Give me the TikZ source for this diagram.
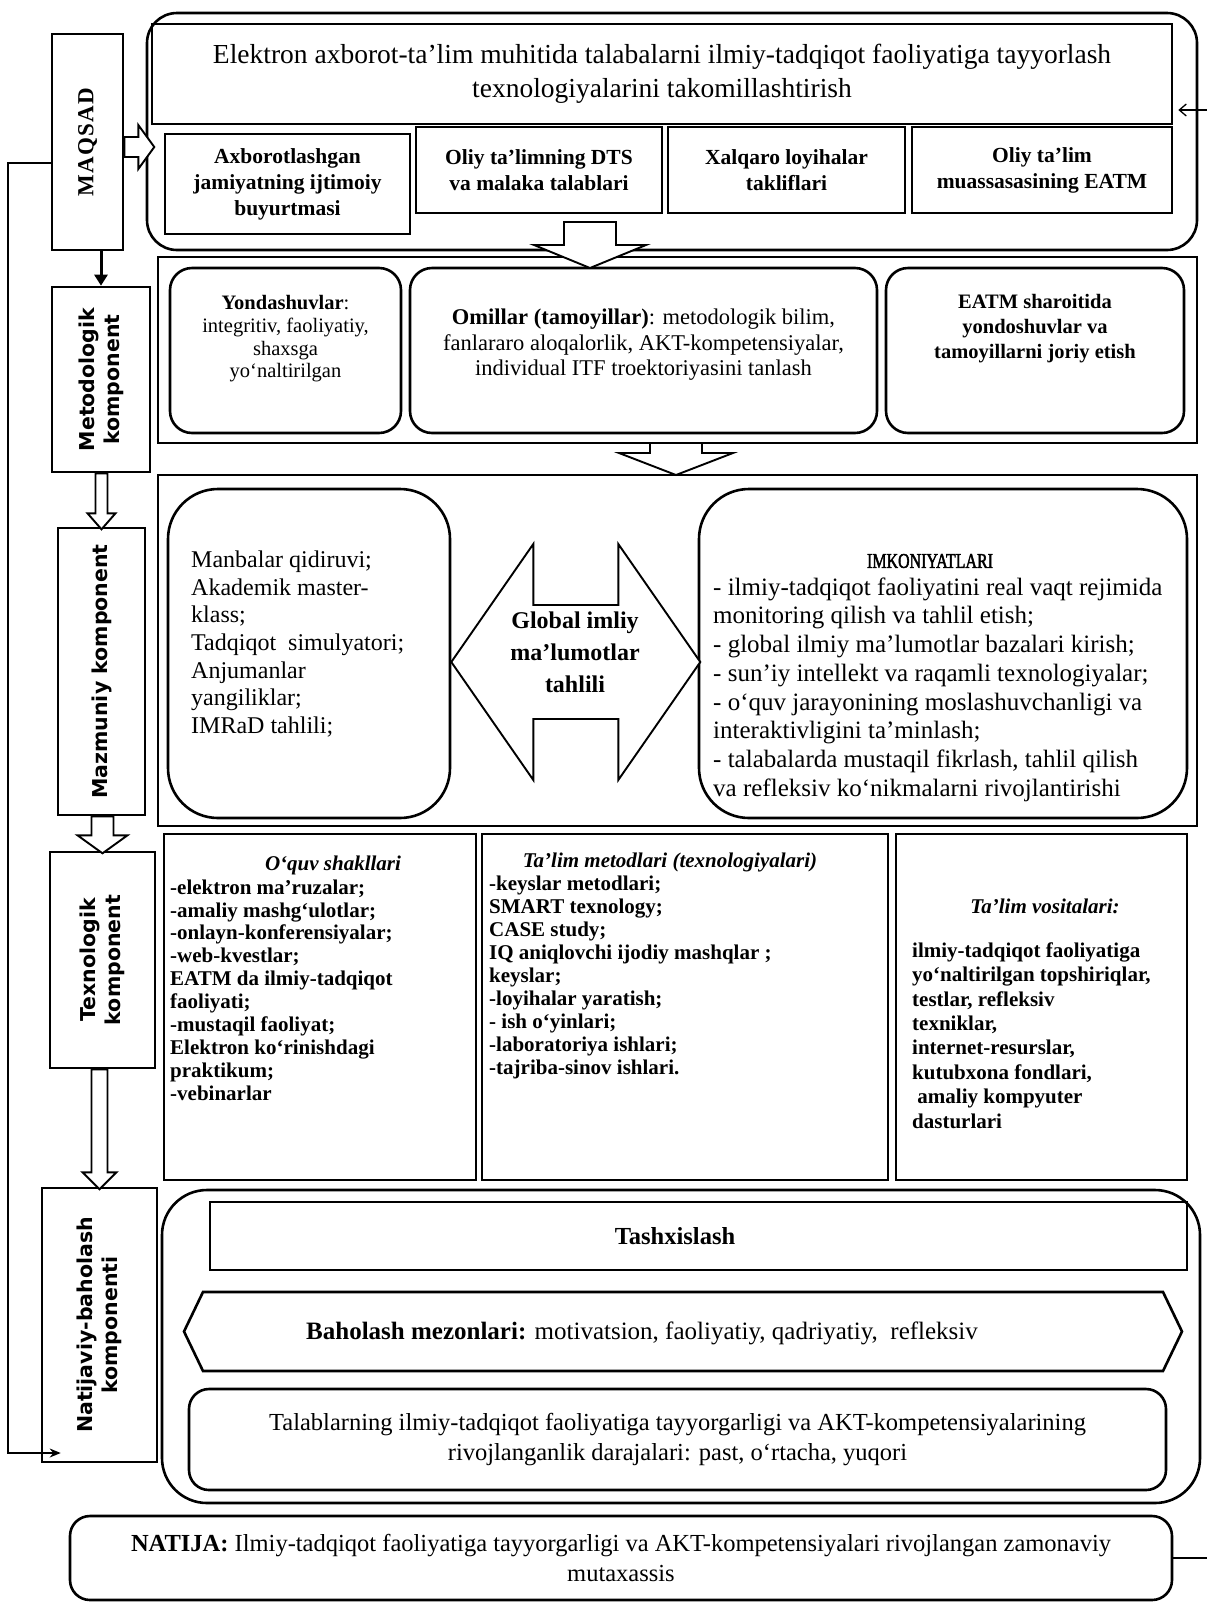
\documentclass[tikz,border=0pt]{standalone}
\usepackage{fontspec}
\setmainfont{Liberation Serif}
\newfontfamily\dvsans{DejaVu Sans}
\newfontfamily\narrowserif{Liberation Serif}[FakeStretch=0.76, FakeBold=2]
\usetikzlibrary{calc,arrows.meta}
\newcommand\zzTitle{\fontsize{27.5}{34}\selectfont}
\newcommand\zzSub{\fontsize{21.5}{26}\selectfont\bfseries}
\newcommand\zzRa{\fontsize{20.5}{22.7}\selectfont}
\newcommand\zzRb{\fontsize{22.5}{25.5}\selectfont}
\newcommand\zzRc{\fontsize{20.5}{25}\selectfont\bfseries}
\newcommand\zzMazL{\fontsize{24}{27.7}\selectfont}
\newcommand\zzMazR{\fontsize{25}{28.7}\selectfont}
\newcommand\zzGlob{\fontsize{24}{32}\selectfont\bfseries}
\newcommand\zzTech{\fontsize{21}{22.9}\selectfont\bfseries}
\newcommand\zzTechT{\fontsize{21}{24.4}\selectfont\bfseries}
\newcommand\zzNat{\fontsize{24.5}{29.5}\selectfont}
\newcommand\zzMaq{\fontsize{23}{26}\selectfont\bfseries\addfontfeatures{LetterSpace=6}}
\newcommand\zzLab{\dvsans\fontsize{20.5}{25}\selectfont\bfseries}
\newcommand\zzDown[5]{\draw[hol] (#1) ++({-(#2)},0) -- ++(0,#4) -- ++({(#2)-(#3)},0) -- ++(#3,#5) -- ++(#3,{-(#5)}) -- ++({(#2)-(#3)},0) -- ++(0,{-(#4)}) -- cycle;}
\newcommand\zzRight[5]{\draw[hol] (#1) ++(0,{-(#2)}) -- ++(#4,0) -- ++(0,{(#2)-(#3)}) -- ++(#5,#3) -- ++({-(#5)},#3) -- ++(0,{(#2)-(#3)}) -- ++({-(#4)},0) -- cycle;}
\tikzset{
  bx/.style={draw, line width=2.6pt, inner sep=0pt, align=center},
  tx/.style={inner sep=0pt, align=center},
  txl/.style={inner sep=0pt, align=left, anchor=west},
  hol/.style={draw, line width=1.9pt, fill=white, line join=miter},
  thinln/.style={line width=1.3pt},
}
\begin{document}
\begin{tikzpicture}[x=1pt,y=-1pt]
\fill[white] (0,0) rectangle (1207,1604);
\useasboundingbox (0,0) rectangle (1207,1604);

% ---------- top block
\node[bx, rounded corners=30pt, minimum width=1050pt, minimum height=237pt] (top) at (672,131.5) {};
\node[bx, minimum width=1020pt, minimum height=100pt, font=\zzTitle] (title) at (662,74)
  {Elektron axborot-ta’lim muhitida talabalarni ilmiy-tadqiqot faoliyatiga tayyorlash\\texnologiyalarini takomillashtirish};
\node[bx, minimum width=245pt, minimum height=100pt, font=\zzSub] (b1) at (287.5,184) {Axborotlashgan\\jamiyatning ijtimoiy\\buyurtmasi};
\node[bx, minimum width=246pt, minimum height=86pt, font=\zzSub] (b2) at (539,170) {Oliy ta’limning DTS\\va malaka talablari};
\node[bx, minimum width=237pt, minimum height=86pt, font=\zzSub] (b3) at (786.5,170) {Xalqaro loyihalar\\takliflari};
\node[bx, minimum width=260pt, minimum height=86pt, font=\zzSub] (b4) at (1042,170) {Oliy ta’lim\\muassasasining EATM};

% ---------- metodologik block
\node[bx, minimum width=1039pt, minimum height=186pt] (metout) at (677.5,350) {};
\node[bx, rounded corners=22pt, minimum width=231pt, minimum height=165pt] (r1) at (285.5,350.5) {};
\node[tx, font=\zzRa] (r1t) at (285.5,339) {\textbf{Yondashuvlar}:\\integritiv, faoliyatiy,\\shaxsga\\yo‘naltirilgan};
\node[bx, rounded corners=22pt, minimum width=467pt, minimum height=165pt] (r2) at (643.5,350.5) {};
\node[tx, font=\zzRb] (r2t) at (643.5,345) {\textbf{Omillar (tamoyillar)}: metodologik bilim,\\fanlararo aloqalorlik, AKT-kompetensiyalar,\\individual ITF troektoriyasini tanlash};
\node[bx, rounded corners=22pt, minimum width=298pt, minimum height=165pt] (r3) at (1035,350.5) {};
\node[tx, font=\zzRc] (r3t) at (1035,329) {EATM sharoitida\\yondoshuvlar va\\tamoyillarni joriy etish};

% ---------- mazmuniy block
\node[bx, minimum width=1039pt, minimum height=351pt] (mazout) at (677.5,650.5) {};
\node[bx, rounded corners=50pt, minimum width=282pt, minimum height=329pt] (lb) at (309,653.5) {};
\node[txl, font=\zzMazL] (lbt) at (191,644) {Manbalar qidiruvi;\\Akademik master-\\klass;\\Tadqiqot\ \ simulyatori;\\Anjumanlar\\yangiliklar;\\IMRaD tahlili;};
\node[bx, rounded corners=50pt, minimum width=488pt, minimum height=329pt] (rb) at (943,653.5) {};
\node[tx, font=\narrowserif\fontsize{21}{24}\selectfont] (rbh) at (930,561) {IMKONIYATLARI};
\node[txl, font=\zzMazR] (rbt) at (713,689.5) {- ilmiy-tadqiqot faoliyatini real vaqt rejimida\\monitoring qilish va tahlil etish;\\- global ilmiy ma’lumotlar bazalari kirish;\\- sun’iy intellekt va raqamli texnologiyalar;\\- o‘quv jarayonining moslashuvchanligi va\\interaktivligini ta’minlash;\\- talabalarda mustaqil fikrlash, tahlil qilish\\va refleksiv ko‘nikmalarni rivojlantirishi};
\coordinate (dc) at (574.5,662);
\draw[hol] (lb.east |- dc) -- ++(82,-118) -- ++(0,61) -- ++(85,0) -- ++(0,-61) -- ++(82,118)
  -- ++(-82,118) -- ++(0,-61) -- ++(-85,0) -- ++(0,61) -- cycle;
\node[tx, font=\zzGlob] (glob) at (575,652) {Global imliy\\ma’lumotlar\\tahlili};

% ---------- texnologik block
\node[bx, line width=2.8pt, minimum width=312pt, minimum height=346pt] (t1) at (320,1007) {};
\node[tx, font=\zzTech\itshape] (t1h) at (333,865) {O‘quv shakllari};
\node[txl, font=\zzTech] (t1t) at (170,990) {-elektron ma’ruzalar;\\-amaliy mashg‘ulotlar;\\-onlayn-konferensiyalar;\\-web-kvestlar;\\EATM da ilmiy-tadqiqot\\faoliyati;\\-mustaqil faoliyat;\\Elektron ko‘rinishdagi\\praktikum;\\-vebinarlar};
\node[bx, line width=2.8pt, minimum width=406pt, minimum height=346pt] (t2) at (685,1007) {};
\node[tx, font=\zzTech\itshape] (t2h) at (670,862) {Ta’lim metodlari (texnologiyalari)};
\node[txl, font=\zzTech] (t2t) at (489,977.5) {-keyslar metodlari;\\SMART texnology;\\CASE study;\\IQ aniqlovchi ijodiy mashqlar ;\\keyslar;\\-loyihalar yaratish;\\- ish o‘yinlari;\\-laboratoriya ishlari;\\-tajriba-sinov ishlari.};
\node[bx, line width=2.8pt, minimum width=291pt, minimum height=346pt] (t3) at (1041.5,1007) {};
\node[tx, font=\zzTech\itshape] (t3h) at (1045,906) {Ta’lim vositalari:};
\node[txl, font=\zzTechT] (t3t) at (912,1035.5) {ilmiy-tadqiqot faoliyatiga\\yo‘naltirilgan topshiriqlar,\\testlar, refleksiv\\texniklar,\\internet-resurslar,\\kutubxona fondlari,\\\ amaliy kompyuter\\dasturlari};

% ---------- natijaviy block
\node[bx, rounded corners=45pt, minimum width=1038pt, minimum height=313pt] (natout) at (681,1346.5) {};
\node[bx, minimum width=977pt, minimum height=68pt] (tash) at (698.5,1236) {};
\node[tx, font=\zzNat\bfseries] (tasht) at (675,1236) {Tashxislash};
\draw[line width=2.6pt, line join=miter] (184,1331.5) -- (203,1292) -- (1163,1292) -- (1182,1331.5) -- (1163,1371) -- (203,1371) -- cycle;
\node[tx, font=\fontsize{25}{29.5}\selectfont] (bah) at (642,1333) {\textbf{Baholash mezonlari:} motivatsion, faoliyatiy, qadriyatiy,\ \ refleksiv};
\node[bx, rounded corners=20pt, minimum width=977pt, minimum height=101pt, font=\zzNat] (tal) at (677.5,1439.5)
  {Talablarning ilmiy-tadqiqot faoliyatiga tayyorgarligi va AKT-kompetensiyalarining\\rivojlanganlik darajalari: past, o‘rtacha, yuqori};
\node[bx, rounded corners=20pt, minimum width=1102pt, minimum height=84pt, font=\zzNat] (natija) at (621,1558)
  {\textbf{NATIJA:} Ilmiy-tadqiqot faoliyatiga tayyorgarligi va AKT-kompetensiyalari rivojlangan zamonaviy\\mutaxassis};

% ---------- left column
\node[bx, minimum width=71pt, minimum height=216pt] (maq) at (87.5,142) {};
\node[tx, rotate=90, font=\zzMaq] (maqt) at (maq.center) {MAQSAD};
\node[bx, minimum width=98pt, minimum height=185pt] (met) at (101,379.5) {};
\node[tx, rotate=90, font=\zzLab] (mett) at (met.center) {Metodologik\\komponent};
\node[bx, minimum width=87pt, minimum height=287pt] (maz) at (101.5,671.5) {};
\node[tx, rotate=90, font=\zzLab] (mazt) at (maz.center) {Mazmuniy komponent};
\node[bx, minimum width=105pt, minimum height=216pt] (tex) at (102.5,960) {};
\node[tx, rotate=90, font=\zzLab] (text) at (tex.center) {Texnologik\\komponent};
\node[bx, minimum width=115pt, minimum height=274pt] (nat) at (99.5,1325) {};
\node[tx, rotate=90, font=\zzLab] (natt) at (nat.center) {Natijaviy-baholash\\komponenti};

% ---------- arrows
\coordinate (ya) at (0,147);
\zzRight{maq.east |- ya}{10}{22}{14}{16}
\draw[line width=3pt, -{Triangle[length=11pt,width=13pt]}] (maq.south -| met.north) -- (met.north);
\zzDown{met.south -| maz.north}{6}{14}{40}{16}
\zzDown{maz.south -| tex.north}{11}{25}{19}{18}
\zzDown{tex.south -| nat.north}{8}{17}{103}{17}
\coordinate (ba1) at (590,222);
\zzDown{ba1}{26}{56}{23}{23}
\coordinate (ba2) at (676,443);
\zzDown{ba2}{26}{57}{10}{22}

\coordinate (fy1) at (0,163);
\coordinate (fy2) at (0,1453);
\coordinate (fbx1) at (8,163);
\coordinate (fbx2) at (8,1453);
\draw[thinln, -{Stealth[length=11pt,width=9pt]}] (maq.west |- fy1) -- (fbx1) -- (fbx2) -- ($(nat.west |- fy2)+(20,0)$);

\coordinate (redge) at (1207,1558);
\draw[thinln] (natija.east) -- (redge);
\coordinate (redgeT) at (1207,110);
\draw[thinln, -{Straight Barb[length=7pt,width=12pt]}] (redgeT) -- ($(title.east |- redgeT)+(5,0)$);
\end{tikzpicture}
\end{document}
